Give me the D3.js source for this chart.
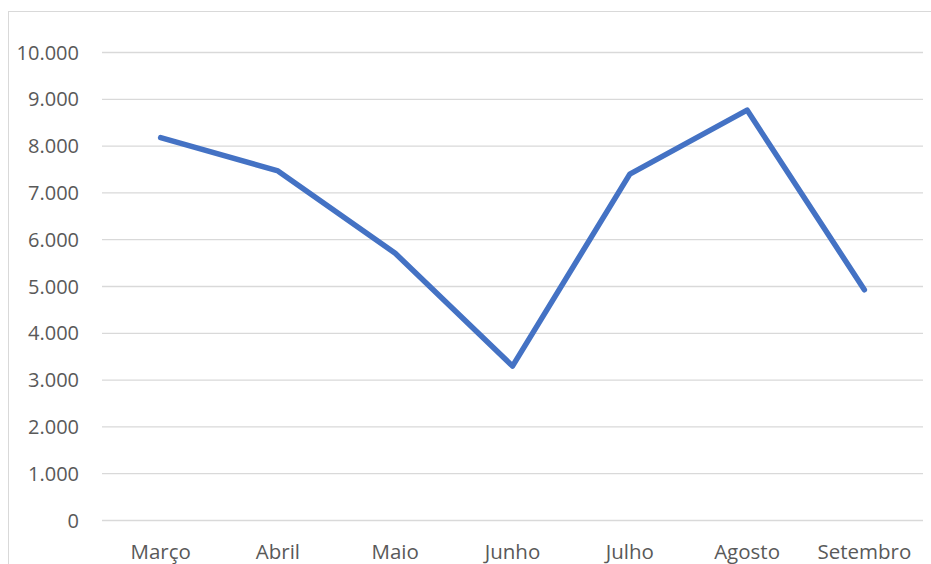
<!DOCTYPE html>
<html>
<head>
<meta charset="utf-8">
<script src="https://cdn.jsdelivr.net/npm/d3@7"></script>
<style>
  body { margin: 0; background: #fff; }
  text { font-family: "Open Sans", Lato, sans-serif; fill: #595959; }
</style>
</head>
<body>
<script>
// meses e valores
const months = ["Março", "Abril", "Maio", "Junho", "Julho", "Agosto", "Setembro"];
const values = [8180, 7470, 5710, 3300, 7400, 8770, 4930];
const yTicks = [0, 1000, 2000, 3000, 4000, 5000, 6000, 7000, 8000, 9000, 10000];

const width = 931, height = 564;
const plotX1 = 102, plotX2 = 923;
const plotY1 = 52.5, plotY2 = 520.5;

const svg = d3.select("body").append("svg")
  .attr("width", width)
  .attr("height", height);

// moldura do gráfico
svg.append("rect")
  .attr("x", 8.5).attr("y", 11.5)
  .attr("width", 940).attr("height", 600)
  .attr("fill", "none")
  .attr("stroke", "#d9d9d9")
  .attr("stroke-width", 1);

const x = d3.scaleBand()
  .domain(months)
  .range([plotX1, plotX2]);

const y = d3.scaleLinear()
  .domain([0, 10000])
  .range([plotY2, plotY1]);

const fmt = v => d3.format(",")(v).replace(/,/g, ".");

// linhas de grade
svg.selectAll("line.grid")
    .data(yTicks)
    .enter()
  .append("line")
    .attr("class", "grid")
    .attr("x1", plotX1)
    .attr("x2", plotX2)
    .attr("y1", d => y(d))
    .attr("y2", d => y(d))
    .attr("stroke", "#d9d9d9")
    .attr("stroke-width", 1.3);

// rótulos do eixo y
svg.selectAll("text.ylab")
    .data(yTicks)
    .enter()
  .append("text")
    .attr("class", "ylab")
    .attr("x", 79)
    .attr("y", d => y(d))
    .attr("dy", "0.35em")
    .attr("text-anchor", "end")
    .style("font-size", "20px")
    .text(d => fmt(d));

// rótulos do eixo x
svg.selectAll("text.xlab")
    .data(months)
    .enter()
  .append("text")
    .attr("class", "xlab")
    .attr("x", d => x(d) + x.bandwidth() / 2)
    .attr("y", 559)
    .attr("text-anchor", "middle")
    .style("font-size", "20.5px")
    .text(d => d);

const line = d3.line()
  .x((d, i) => x(months[i]) + x.bandwidth() / 2)
  .y(d => y(d));

svg.append("path")
  .datum(values)
  .attr("d", line)
  .attr("fill", "none")
  .attr("stroke", "#4472c4")
  .attr("stroke-width", 5.5)
  .attr("stroke-linecap", "round")
  .attr("stroke-linejoin", "round");
</script>
</body>
</html>
